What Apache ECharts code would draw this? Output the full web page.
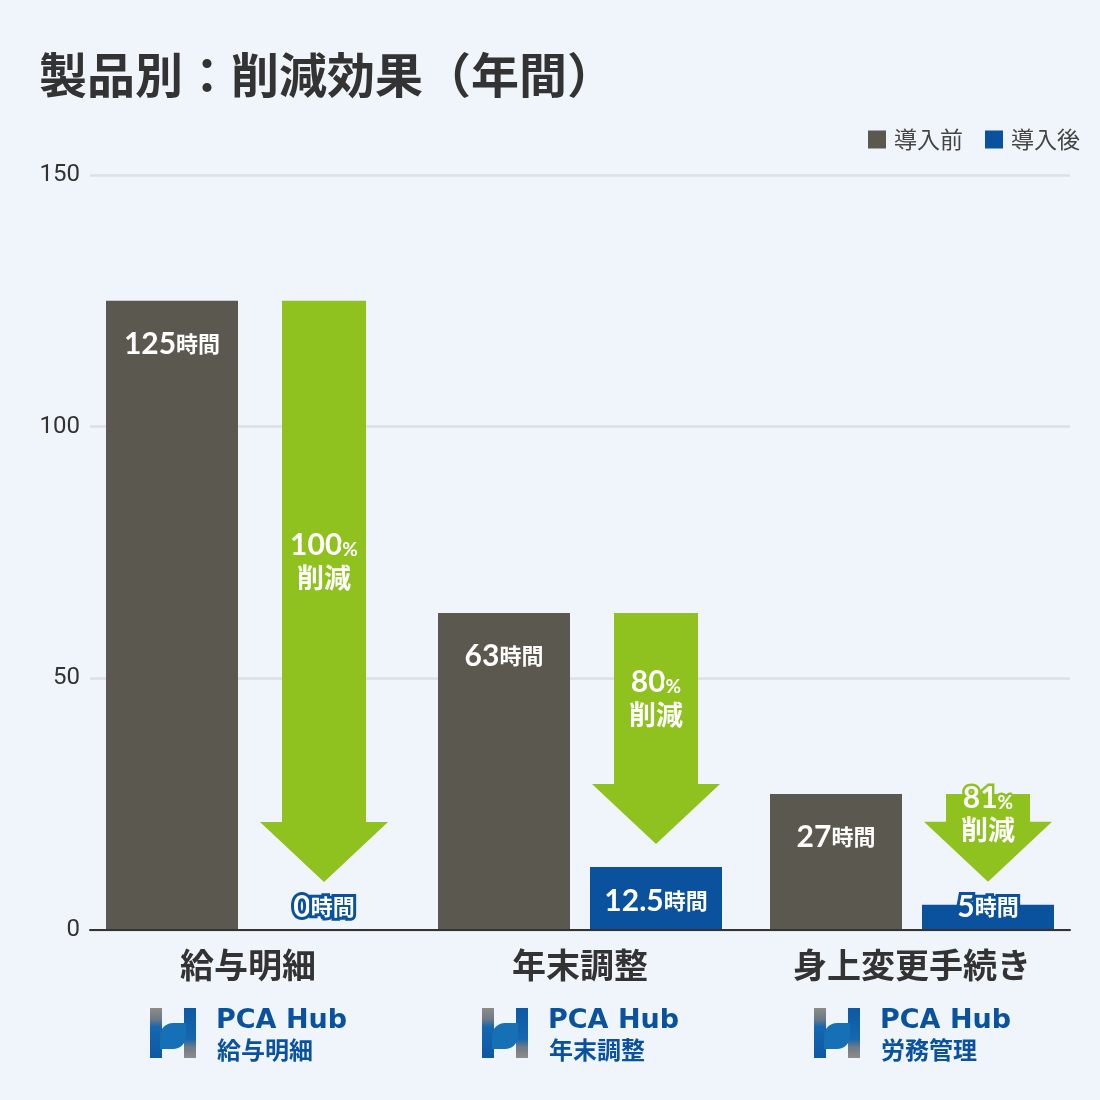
<!DOCTYPE html>
<html><head><meta charset="utf-8">
<script src="https://cdn.jsdelivr.net/npm/echarts@6/dist/echarts.min.js"></script>
<style>html,body{margin:0;padding:0;background:#eff5fa}#c{width:1100px;height:1100px}</style>
</head><body><div id="c"></div>
<script>
const categories = ['給与明細', '年末調整', '身上変更手続き'];
const productNames = ['給与明細', '年末調整', '労務管理'];
const beforeHours = [125, 63, 27];
const afterHours = [0, 12.5, 5];
const reductionPct = [100, 80, 81];
const yTicks = [0, 50, 100, 150];
const seriesNames = ['導入前', '導入後'];

const C_BEFORE = '#5b5850', C_AFTER = '#0a519e', C_GREEN = '#8fc21f', C_TEXT = '#333333';
const JP = '"Noto Sans CJK JP", "Noto Sans", sans-serif';
const NUM = 'Lato, "Noto Sans CJK JP", sans-serif';
const BAR_W = 132, GAP = 20, OFF = BAR_W / 2 + GAP / 2;

const chart = echarts.init(document.getElementById('c'), null, {renderer: 'canvas'});

const arrowData = categories.map((c, i) => [i, beforeHours[i], afterHours[i], reductionPct[i]]);

function renderArrow(params, api) {
  const i = api.value(0);
  const x = api.coord([i, 0])[0] + OFF;
  const y0 = api.coord([i, 0])[1];
  const yTop = api.coord([i, api.value(1)])[1];
  const yAfter = api.coord([i, api.value(2)])[1];
  const tipY = Math.min(yAfter, y0 - 25) - 23;
  const headY = tipY - 60;
  const pts = [[x - 42, yTop], [x + 42, yTop], [x + 42, headY], [x + 64, headY], [x, tipY], [x - 64, headY], [x - 42, headY]];
  const midY = (yTop + headY) / 2 + (headY - yTop < 100 ? 6 : 0);
  const labelY = Math.min(yAfter + 34, y0 - 23);
  return {
    type: 'group',
    children: [
      {type: 'polygon', shape: {points: pts}, style: {fill: C_GREEN}},
      {type: 'text', x: x, y: midY, style: {
        text: '{n|' + api.value(3) + '}{p|%}\n{t|削減}',
        align: 'center', verticalAlign: 'middle',
        rich: {
          n: {fontSize: 30, fontFamily: NUM, fontWeight: 'bold', fill: '#fff', stroke: C_GREEN, lineWidth: 5, lineHeight: 32},
          p: {fontSize: 19, fontFamily: NUM, fontWeight: 'bold', fill: '#fff', stroke: C_GREEN, lineWidth: 5, lineHeight: 32, verticalAlign: 'bottom', padding: [0,0,2,0]},
          t: {fontSize: 27, fontFamily: JP, fontWeight: 'bold', fill: '#fff', stroke: C_GREEN, lineWidth: 5, lineHeight: 32}
        }
      }},
      {type: 'text', x: x, y: labelY, style: {
        text: '{n|' + api.value(2) + '}{u|時間}',
        align: 'center', verticalAlign: 'middle',
        rich: {
          n: {fontSize: 30, fontFamily: NUM, fontWeight: 'bold', fill: '#fff', stroke: C_AFTER, lineWidth: 6},
          u: {fontSize: 22, fontFamily: JP, fontWeight: 'bold', fill: '#fff', stroke: C_AFTER, lineWidth: 6}
        }
      }}
    ]
  };
}

const option = {
  backgroundColor: '#eff5fa',
  animation: false,
  title: {text: '製品別：削減効果（年間）', left: 39, top: 51, padding: 0,
    textStyle: {fontSize: 48, fontWeight: 'bold', color: C_TEXT, fontFamily: JP}},
  legend: {data: seriesNames, right: 20, top: 128, padding: 0, itemWidth: 18, itemHeight: 18, itemGap: 22,
    icon: 'rect', textStyle: {fontSize: 23, color: '#444', fontFamily: JP, padding: [0,0,0,3]}},
  grid: [
    {left: 90, right: 30, top: 175, bottom: 170, containLabel: false},
    {left: 82, right: 22, top: 175, bottom: 170, containLabel: false}
  ],
  xAxis: [
    {gridIndex: 0, type: 'value', min: 0, max: 1, axisLabel: {show: false}, axisTick: {show: false}, splitLine: {show: false},
      axisLine: {show: true, lineStyle: {color: '#333', width: 2}}, z: 10},
    {gridIndex: 1, type: 'category', data: categories, axisLine: {show: false}, axisTick: {show: false},
      axisLabel: {fontSize: 34, fontWeight: 'bold', color: C_TEXT, fontFamily: JP, margin: 18}}
  ],
  yAxis: [
    {gridIndex: 0, type: 'value', min: yTicks[0], max: yTicks[yTicks.length - 1], interval: 50,
      axisLine: {show: false}, axisTick: {show: false},
      axisLabel: {fontSize: 24, color: C_TEXT, fontFamily: 'Roboto, sans-serif', margin: 10},
      splitLine: {lineStyle: {color: '#dcdfe4', width: 2.5}}},
    {gridIndex: 1, type: 'value', min: 0, max: 150, show: false, splitLine: {show: false}}
  ],
  series: [
    {name: seriesNames[0], type: 'bar', xAxisIndex: 1, yAxisIndex: 1, data: beforeHours, barWidth: BAR_W, barGap: (GAP / BAR_W * 100).toFixed(2) + '%',
      itemStyle: {color: C_BEFORE},
      label: {show: true, position: 'insideTop', distance: 28,
        formatter: p => '{n|' + p.value + '}{u|時間}',
        rich: {
          n: {fontSize: 30, fontFamily: NUM, fontWeight: 'bold', color: '#fff'},
          u: {fontSize: 22, fontFamily: JP, fontWeight: 'bold', color: '#fff'}
        }}},
    {name: seriesNames[1], type: 'bar', xAxisIndex: 1, yAxisIndex: 1, data: afterHours, barWidth: BAR_W,
      itemStyle: {color: C_AFTER}},
    {name: 'arrow', type: 'custom', xAxisIndex: 1, yAxisIndex: 1, data: arrowData, renderItem: renderArrow, z: 5, silent: true}
  ]
};
chart.setOption(option);

// Product logos under categories
const graphics = [];
categories.forEach((c, i) => {
  const cx = chart.convertToPixel({xAxisIndex: 1}, i);
  const ix = cx - 98, iy = 1008;
  const grayTop = new echarts.graphic.LinearGradient(0, 0, 0, 1, [
    {offset: 0, color: '#8d8c88'}, {offset: 0.22, color: '#6e7a86'}, {offset: 0.38, color: '#1467b0'}, {offset: 1, color: '#0d59a3'}]);
  const grayBot = new echarts.graphic.LinearGradient(0, 0, 0, 1, [
    {offset: 0, color: '#0d59a3'}, {offset: 0.62, color: '#1467b0'}, {offset: 0.78, color: '#6e7a86'}, {offset: 1, color: '#8d8c88'}]);
  graphics.push(
    {type: 'rect', shape: {x: ix, y: iy, width: 12, height: 50}, style: {fill: grayTop}},
    {type: 'rect', shape: {x: ix + 34, y: iy, width: 12, height: 50}, style: {fill: grayBot}},
    {type: 'rect', shape: {x: ix + 10, y: iy + 15, width: 26, height: 26, r: [13, 0, 13, 0]}, style: {fill: '#1570b6'}},
    {type: 'text', x: cx - 32, y: 1021, style: {text: 'PCA Hub', fontSize: 27, fontWeight: 'bold', fontFamily: '"DejaVu Sans", sans-serif', fill: '#0a519e', verticalAlign: 'middle'}},
    {type: 'text', x: cx - 31, y: 1050, style: {text: productNames[i], fontSize: 24, fontWeight: 'bold', fontFamily: JP, fill: '#0a519e', verticalAlign: 'middle'}}
  );
});
chart.setOption({graphic: graphics});
</script></body></html>
